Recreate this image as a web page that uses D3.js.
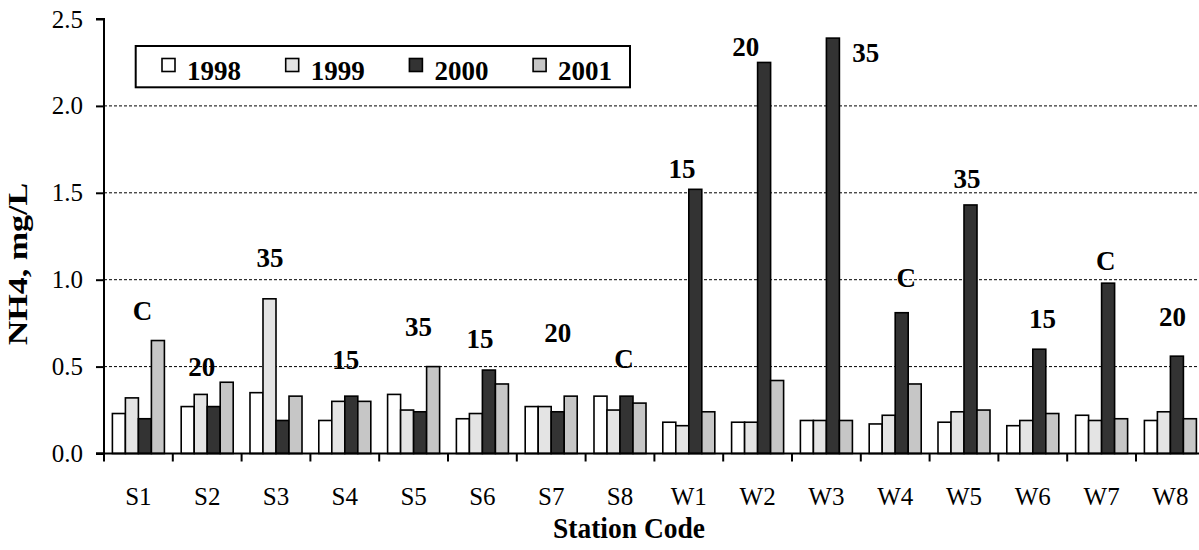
<!DOCTYPE html>
<html>
<head>
<meta charset="utf-8">
<script src="https://cdn.jsdelivr.net/npm/d3@7"></script>
<style>
  html, body { margin: 0; padding: 0; background: #fff; }
  svg { display: block; font-family: "Liberation Serif", "Times New Roman", serif; }
</style>
</head>
<body>
<svg id="chart" width="1199" height="550"></svg>
<script>
// NH4 concentration by station, four sampling years
const stations = ["S1","S2","S3","S4","S5","S6","S7","S8","W1","W2","W3","W4","W5","W6","W7","W8"];
const years = ["1998","1999","2000","2001"];
const nh4_1998 = [0.23,0.27,0.35,0.19,0.34,0.20,0.27,0.33,0.18,0.18,0.19,0.17,0.18,0.16,0.22,0.19];
const nh4_1999 = [0.32,0.34,0.89,0.30,0.25,0.23,0.27,0.25,0.16,0.18,0.19,0.22,0.24,0.19,0.19,0.24];
const nh4_2000 = [0.20,0.27,0.19,0.33,0.24,0.48,0.24,0.33,1.52,2.25,2.39,0.81,1.43,0.60,0.98,0.56];
const nh4_2001 = [0.65,0.41,0.33,0.30,0.50,0.40,0.33,0.29,0.24,0.42,0.19,0.40,0.25,0.23,0.20,0.20];
const stationNotes = ["C","20","35","15","35","15","20","C","15","20","35","C","35","15","C","20"];
const yTicks = [0, 0.5, 1.0, 1.5, 2.0, 2.5];

const seriesValues = [nh4_1998, nh4_1999, nh4_2000, nh4_2001];
const fills = ["#ffffff", "#e4e4e4", "#333333", "#c6c6c6"];

const svg = d3.select("#chart");
const plotLeft = 104, plotBottom = 453.5, plotTop = 19, step = 68.8;
const plotRight = plotLeft + step * stations.length;

const x = d3.scaleBand().domain(stations).range([plotLeft, plotRight])
  .paddingInner(0.244).paddingOuter(0.122);
const xi = d3.scaleBand().domain(years).range([0, x.bandwidth()]);
const y = d3.scaleLinear().domain([0, 2.5]).range([plotBottom, plotTop]);

// dashed gridlines
svg.append("g").selectAll("line")
  .data(yTicks.filter(t => t > 0 && t < 2.5))
  .join("line")
  .attr("x1", plotLeft).attr("x2", plotRight)
  .attr("y1", d => y(d)).attr("y2", d => y(d))
  .attr("stroke", "#000").attr("stroke-width", 1)
  .attr("stroke-dasharray", "3,2");

// bars
const rows = stations.map((s, i) => ({ station: s, vals: years.map((yr, k) => ({ year: yr, k, v: seriesValues[k][i] })) }));
const groups = svg.append("g").selectAll("g").data(rows).join("g")
  .attr("transform", d => `translate(${x(d.station)},0)`);
groups.selectAll("rect").data(d => d.vals).join("rect")
  .attr("x", d => xi(d.year))
  .attr("width", xi.bandwidth())
  .attr("y", d => y(d.v))
  .attr("height", d => y(0) - y(d.v))
  .attr("fill", d => fills[d.k])
  .attr("stroke", "#000").attr("stroke-width", 1.6);

// axes
const yAxis = svg.append("g").attr("transform", `translate(${plotLeft},0)`)
  .call(d3.axisLeft(y).tickValues(yTicks).tickFormat(d3.format(".1f")).tickSize(8).tickPadding(13));
const xAxis = svg.append("g").attr("transform", `translate(0,${plotBottom})`)
  .call(d3.axisBottom(x).tickSize(0).tickPadding(34));
// tick marks between station groups
svg.append("g").selectAll("line")
  .data(d3.range(stations.length + 1))
  .join("line")
  .attr("x1", i => plotLeft + i * step).attr("x2", i => plotLeft + i * step)
  .attr("y1", plotBottom).attr("y2", plotBottom + 8)
  .attr("stroke", "#000").attr("stroke-width", 2);

[yAxis, xAxis].forEach(g => {
  g.select(".domain").attr("stroke", "#000").attr("stroke-width", 2);
  g.selectAll(".tick line").attr("stroke", "#000").attr("stroke-width", 2);
  g.selectAll(".tick text").attr("fill", "#000").style("font-size", "25px")
    .style("font-family", '"Liberation Serif", serif');
});
yAxis.select(".domain").attr("d", `M-8,${y(2.5)}H0V${plotBottom}H-8`);
xAxis.select(".domain").attr("d", `M${plotLeft - 8},0H${plotRight}`);

// axis titles, set slightly tall
svg.append("text").attr("transform", "translate(629,538) scale(1,1.1)")
  .attr("text-anchor", "middle").attr("font-weight", "bold").attr("font-size", 27.5)
  .text("Station Code");
svg.append("text").attr("transform", "translate(27,264) scale(1,1.26) rotate(-90)")
  .attr("text-anchor", "middle").attr("font-weight", "bold").attr("font-size", 27)
  .text("NH4, mg/L");

// station annotations: [horizontal shift in px from group centre, baseline level in mg/L]
const notePlacement = [[4,0.768],[-5.5,0.446],[-6,1.071],[1,0.484],[5,0.676],[-2.4,0.609],[6.6,0.64],[4,0.49],
  [-6.8,1.587],[-11.8,2.287],[39.4,2.254],[11,0.956],[3,1.528],[9.7,0.72],[4.2,1.056],[2.1,0.735]];
svg.append("g").selectAll("text").data(stations).join("text")
  .attr("x", (s, i) => x(s) + x.bandwidth() / 2 + notePlacement[i][0])
  .attr("y", (s, i) => y(notePlacement[i][1]))
  .attr("text-anchor", "middle").attr("font-weight", "bold").attr("font-size", 27)
  .text((s, i) => stationNotes[i]);

// legend
const lg = svg.append("g");
lg.append("rect").attr("x", 135.7).attr("y", 46).attr("width", 494.3).attr("height", 41.3)
  .attr("fill", "#fff").attr("stroke", "#000").attr("stroke-width", 2);
const items = lg.selectAll("g.item").data(years).join("g").attr("class", "item")
  .attr("transform", (d, k) => `translate(${162 + k * 123.7},58.5)`);
items.append("rect").attr("width", 13).attr("height", 13)
  .attr("fill", (d, k) => fills[k]).attr("stroke", "#000").attr("stroke-width", 1.6);
items.append("text").attr("x", 25).attr("y", 21.5)
  .attr("font-weight", "bold").attr("font-size", 27).text(d => d);
</script>
</body>
</html>
